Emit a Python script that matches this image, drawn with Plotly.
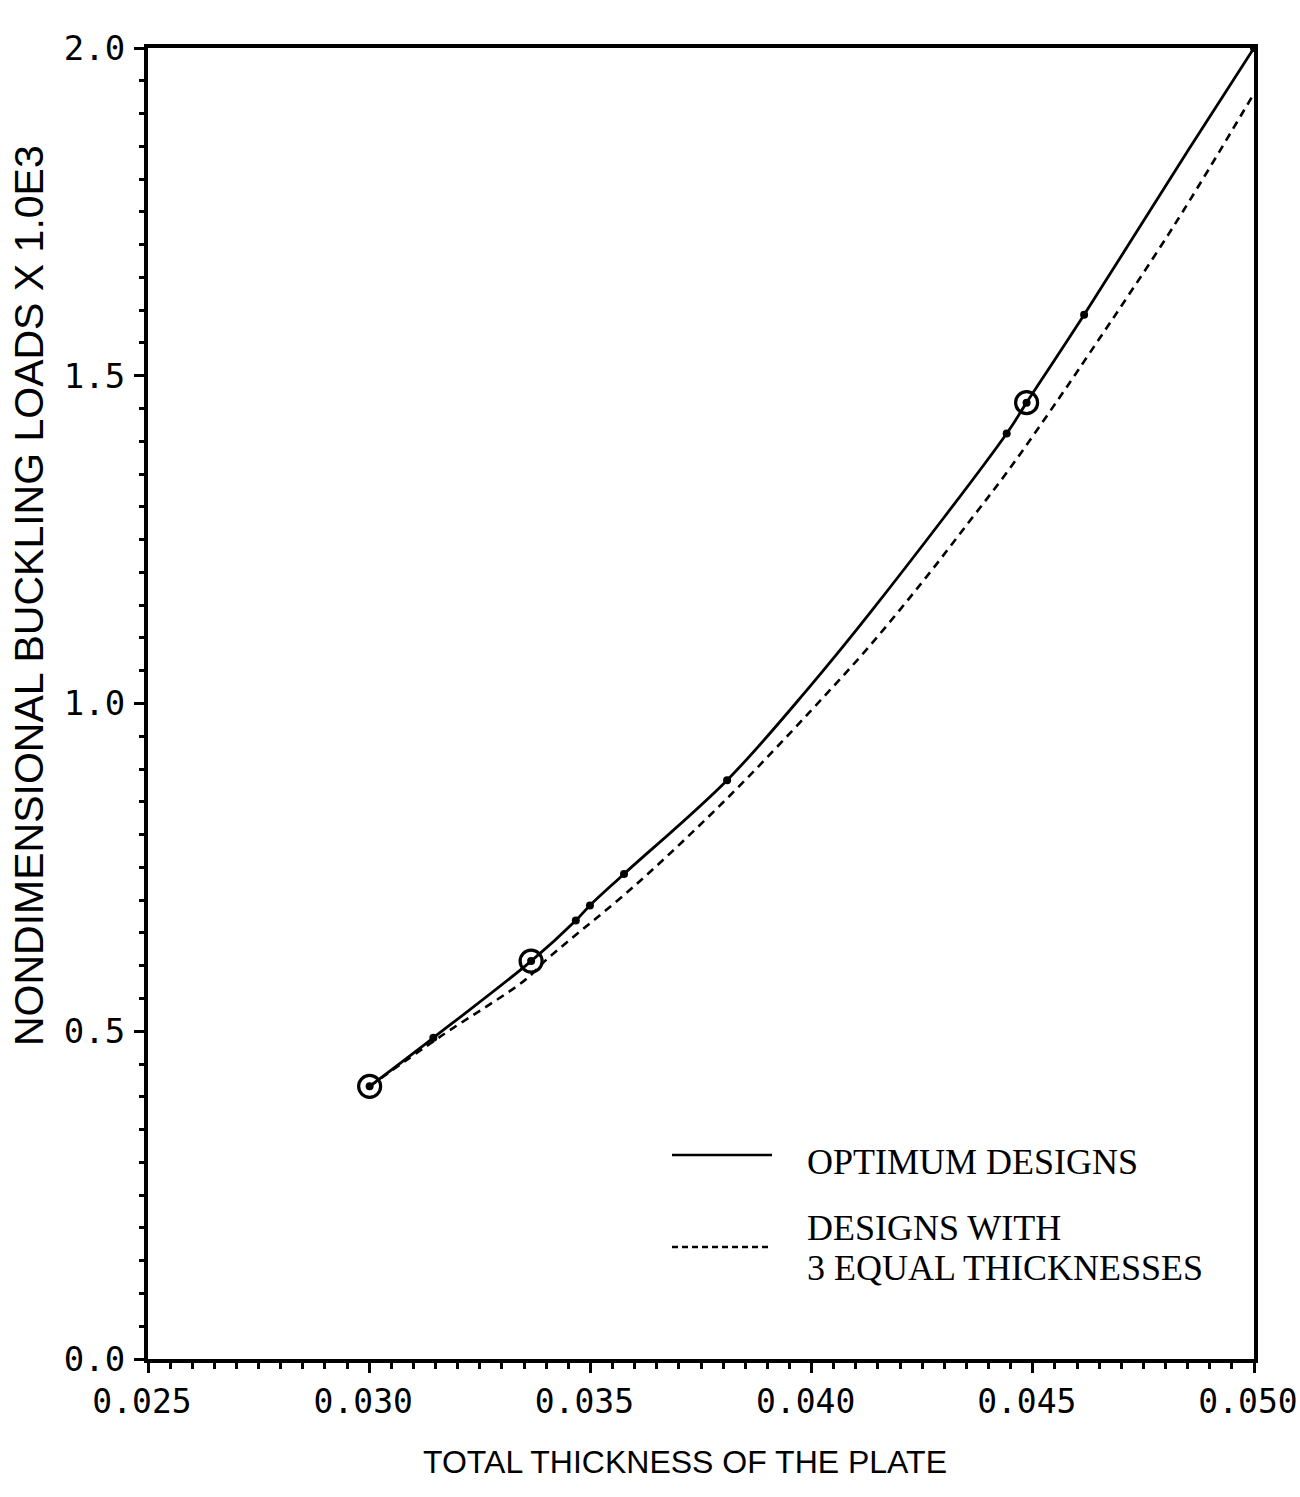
import plotly.graph_objects as go

# ---- data ----
# optimum designs: data points (small dots)
opt_x = [0.03001, 0.03145, 0.03366, 0.03467, 0.03499, 0.03576, 0.03809, 0.04441, 0.04486, 0.04616, 0.05000]
opt_y = [0.416, 0.490, 0.607, 0.669, 0.692, 0.740, 0.883, 1.412, 1.459, 1.593, 2.000]
# optimum curve traced points (line path, includes the data points)
opt_line_x = [0.03001, 0.03145, 0.03366, 0.03467, 0.03499, 0.03576, 0.03809, 0.03995, 0.04140,
              0.04441, 0.04486, 0.04616, 0.04853, 0.05000]
opt_line_y = [0.416, 0.490, 0.607, 0.669, 0.692, 0.740, 0.883, 1.025, 1.145,
              1.412, 1.459, 1.593, 1.846, 2.000]
# highlighted (circled) designs
circ_x = [0.03001, 0.03366, 0.04486]
circ_y = [0.416, 0.607, 1.459]
# designs with 3 equal thicknesses (dashed curve)
eq_x = [0.03001, 0.03161, 0.03352, 0.03402, 0.03605, 0.03816, 0.03997, 0.04125, 0.04250,
        0.04357, 0.04443, 0.04533, 0.04629, 0.04822, 0.04995]
eq_y = [0.416, 0.492, 0.578, 0.610, 0.725, 0.860, 0.988, 1.083, 1.185,
        1.278, 1.354, 1.440, 1.535, 1.732, 1.925]

x_ticks = [0.025, 0.030, 0.035, 0.040, 0.045, 0.050]
x_tick_text = ["0.025", "0.030", "0.035", "0.040", "0.045", "0.050"]
y_ticks = [0.0, 0.5, 1.0, 1.5, 2.0]
y_tick_text = ["0.0", "0.5", "1.0", "1.5", "2.0"]

legend_labels = ["OPTIMUM DESIGNS", "DESIGNS WITH", "3 EQUAL THICKNESSES"]
x_title = "TOTAL THICKNESS OF THE PLATE"
y_title = "NONDIMENSIONAL BUCKLING LOADS X 1.0E3"

# plot-area geometry (pixels)
L, R, T, B = 148, 46, 48, 138
W = 1300 - L - R
H = 1497 - T - B

def dx(px):
    return (px - L) / W

def dy(py):
    return (1497 - B - py) / H

fig = go.Figure()

fig.add_trace(go.Scatter(x=eq_x, y=eq_y, mode="lines",
                         line=dict(color="black", width=2.6, dash="8px,6px", shape="spline", smoothing=1.0),
                         name=" ".join(legend_labels[1:]), showlegend=False, cliponaxis=False))
fig.add_trace(go.Scatter(x=opt_line_x, y=opt_line_y, mode="lines",
                         line=dict(color="black", width=2.8, shape="spline", smoothing=1.0),
                         name=legend_labels[0], showlegend=False, cliponaxis=False))
fig.add_trace(go.Scatter(x=opt_x, y=opt_y, mode="markers", marker=dict(color="black", size=8, symbol="circle"),
                         showlegend=False, cliponaxis=False, name="optimum points"))
fig.add_trace(go.Scatter(x=circ_x, y=circ_y, mode="markers",
                         marker=dict(color="black", size=22, symbol="circle-open-dot", line=dict(width=3.2, color="black")),
                         showlegend=False, cliponaxis=False, name="circled"))

# legend drawn inside the plot
fig.add_shape(type="line", xref="x domain", yref="y domain", x0=dx(672), x1=dx(772), y0=dy(1155), y1=dy(1155),
              line=dict(color="black", width=2.6))
fig.add_shape(type="line", xref="x domain", yref="y domain", x0=dx(672), x1=dx(768), y0=dy(1247), y1=dy(1247),
              line=dict(color="black", width=2.6, dash="6px,4px"))
serif = "Liberation Serif, Times New Roman, serif"
for label, py in zip(legend_labels, [1162, 1228, 1268]):
    fig.add_annotation(xref="x domain", yref="y domain", x=dx(805), y=dy(py), xanchor="left", yanchor="middle",
                       text=label, showarrow=False, font=dict(family=serif, size=36, color="black"))

mono = "DejaVu Sans Mono, monospace"
sans = "Liberation Sans, Arial, sans-serif"

# axis titles
fig.add_annotation(xref="paper", yref="paper", x=dx(685), y=dy(1462),
                   xanchor="center", yanchor="middle", text=x_title, showarrow=False,
                   font=dict(family=sans, size=32, color="black"))
fig.add_annotation(xref="paper", yref="paper", x=dx(29), y=dy(596),
                   xanchor="center", yanchor="middle", text=y_title, showarrow=False, textangle=-90,
                   font=dict(family=sans, size=41, color="black"))

fig.update_xaxes(range=[0.025, 0.050], tickvals=x_ticks, ticktext=x_tick_text,
                 showline=True, linewidth=4, linecolor="black", mirror=True,
                 ticks="outside", ticklen=10, tickwidth=3, tickcolor="black",
                 minor=dict(dtick=0.0005, ticklen=6, tickwidth=3, tickcolor="black", ticks="outside"),
                 showgrid=False, zeroline=False, ticklabelstandoff=0, ticklabelshift=-6,
                 ticklabeloverflow="allow",
                 tickfont=dict(family=mono, size=33, color="black"))
fig.update_yaxes(range=[0.0, 2.0], tickvals=y_ticks, ticktext=y_tick_text,
                 showline=True, linewidth=4, linecolor="black", mirror=True,
                 ticks="outside", ticklen=10, tickwidth=3, tickcolor="black",
                 minor=dict(dtick=0.05, ticklen=5, tickwidth=3, tickcolor="black", ticks="outside"),
                 showgrid=False, zeroline=False, ticklabelstandoff=2, ticklabeloverflow="allow",
                 tickfont=dict(family=mono, size=34, color="black"))

fig.update_layout(width=1300, height=1497, margin=dict(l=L, r=R, t=T, b=B, autoexpand=False),
                  plot_bgcolor="white", paper_bgcolor="white", showlegend=False)

fig.write_html("out.html")
